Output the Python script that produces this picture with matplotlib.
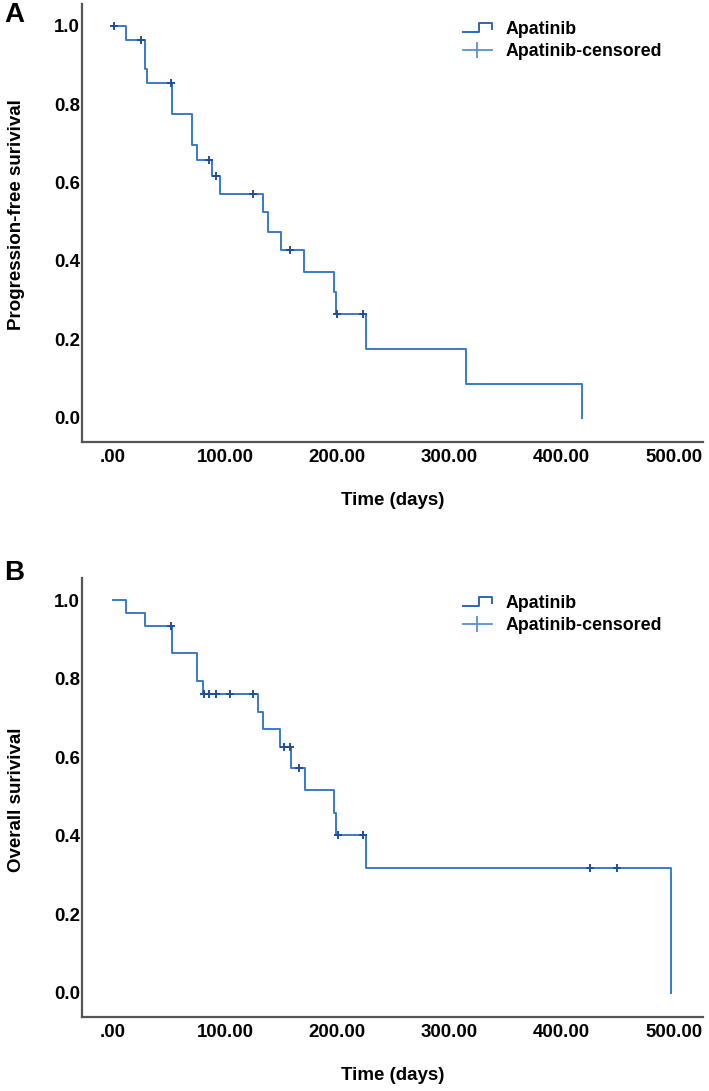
import matplotlib
matplotlib.use("Agg")
import matplotlib.pyplot as plt
import numpy as np
from matplotlib.legend_handler import HandlerBase
from matplotlib.lines import Line2D

plt.rcParams["font.family"] = ["Liberation Sans", "DejaVu Sans"]
plt.rcParams["font.weight"] = "bold"

# --- panel A: progression-free survival (step times in days, survival after step) ---
pfs_times = [0, 12, 28.5, 30.5, 53, 70, 75, 88, 95, 134, 138.5, 150, 170.5, 197, 199, 225.5, 315, 418]
pfs_surv = [1.0, 0.964, 0.890, 0.853, 0.775, 0.696, 0.657, 0.617, 0.572, 0.524, 0.475,
            0.428, 0.373, 0.320, 0.264, 0.175, 0.087, 0.0]
pfs_censored = [1, 25, 52, 86, 92, 125, 158, 200, 223]

# --- panel B: overall survival ---
os_times = [0, 12, 28.5, 53, 75, 80.5, 129.5, 134, 149, 159, 171, 197, 198.5, 225.5, 497]
os_surv = [1.0, 0.968, 0.934, 0.864, 0.795, 0.760, 0.716, 0.671, 0.626, 0.573, 0.515,
           0.457, 0.401, 0.318, 0.0]
os_censored = [52, 81, 86, 92, 104, 125, 152, 158, 166, 200.5, 223, 425, 449.5]

x_ticks = [0, 100, 200, 300, 400, 500]
x_ticklabels = [".00", "100.00", "200.00", "300.00", "400.00", "500.00"]
y_ticks = [0.0, 0.2, 0.4, 0.6, 0.8, 1.0]

LINE = "#3b79cb"
MARK = "#1f4f9c"
SPINE = "#555555"


class StepHandler(HandlerBase):
    def create_artists(self, legend, orig_handle, xdescent, ydescent, width, height, fontsize, trans):
        x0 = -xdescent
        xs = [x0, x0 + 0.55 * width, x0 + 0.55 * width, x0 + width, x0 + width]
        ys = [0.15 * height, 0.15 * height, 0.85 * height, 0.85 * height, 0.4 * height]
        ln = Line2D(xs, ys, color=orig_handle.get_color(), lw=1.4)
        ln.set_transform(trans)
        return [ln]


def step_value(times, surv, t):
    i = np.searchsorted(times, t, side="right") - 1
    return surv[i]


def km_panel(ax, times, surv, censored, ylabel, ylab_y):
    ax.step(times, surv, where="post", color=LINE, lw=1.4)
    cy = [step_value(times, surv, t) for t in censored]
    ax.plot(censored, cy, ls="none", marker="+", ms=6, mew=1.4, color=MARK)
    ax.set_xlim(-27.6, 526)
    ax.set_ylim(-0.062, 1.056)
    ax.set_xticks(x_ticks)
    ax.set_xticklabels(x_ticklabels)
    ax.set_yticks(y_ticks)
    ax.set_yticklabels([f"{v:.1f}" for v in y_ticks])
    ax.tick_params(length=0, labelsize=13.4)
    ax.tick_params(axis="x", pad=5)
    ax.tick_params(axis="y", pad=1.5)
    for s in ("top", "right"):
        ax.spines[s].set_visible(False)
    for s in ("left", "bottom"):
        ax.spines[s].set_color(SPINE)
        ax.spines[s].set_linewidth(1.6)
    ax.set_xlabel("Time (days)", fontsize=13.5, fontweight="bold", labelpad=19)
    ax.set_ylabel(ylabel, fontsize=13.5, fontweight="bold")
    ax.yaxis.set_label_coords(-0.092, ylab_y)
    h1 = Line2D([], [], color="#2f66b8")
    h2 = Line2D([], [], color="#5b8fd6", marker="|", ms=11, mew=1.3, lw=1.3)
    ax.legend([h1, h2], ["Apatinib", "Apatinib-censored"], handler_map={h1: StepHandler()},
              loc="upper left", bbox_to_anchor=(0.6135, 0.962), frameon=False,
              fontsize=12.8, handlelength=1.6, handletextpad=0.8, labelspacing=0.3,
              borderpad=0, borderaxespad=0, numpoints=1)


fig = plt.figure(figsize=(7.09, 10.91), dpi=100)
axA = fig.add_axes([0.1157, 0.5949, 0.876, 0.4015])
axB = fig.add_axes([0.1157, 0.0678, 0.876, 0.4024])
km_panel(axA, pfs_times, pfs_surv, pfs_censored, "Progression-free surivival", 0.518)
km_panel(axB, os_times, os_surv, os_censored, "Overall surivival", 0.494)

fig.text(14 / 709, 1 - 15 / 1091, "A", fontsize=20, fontweight="bold", ha="center", va="center")
fig.text(14 / 709, 1 - 573 / 1091, "B", fontsize=20, fontweight="bold", ha="center", va="center")

fig.savefig("out.png", dpi=100)
